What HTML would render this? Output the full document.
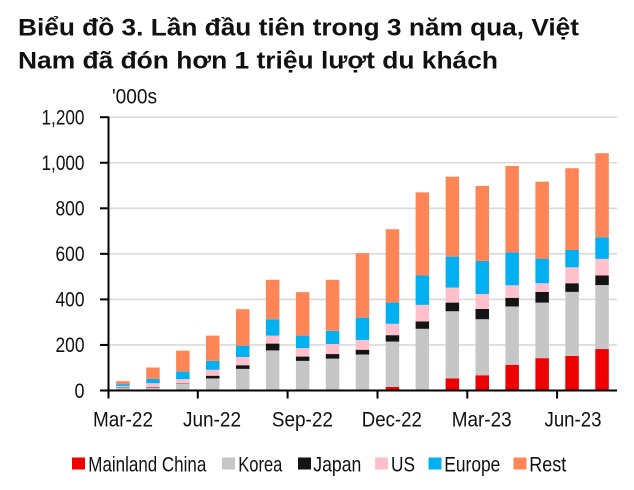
<!DOCTYPE html>
<html><head><meta charset="utf-8"><style>
html,body{margin:0;padding:0;background:#fff;}
svg{display:block;}
text{font-family:"Liberation Sans",Arial,sans-serif;}
</style></head><body>
<svg width="634" height="490" viewBox="0 0 634 490" xmlns="http://www.w3.org/2000/svg">
<rect width="634" height="490" fill="#fff"/>
<text x="18" y="35.5" font-size="24" font-weight="bold" fill="#111" textLength="561" lengthAdjust="spacingAndGlyphs">Biểu đồ 3. Lần đầu tiên trong 3 năm qua, Việt</text>
<text x="18" y="68.5" font-size="24" font-weight="bold" fill="#111" textLength="480" lengthAdjust="spacingAndGlyphs">Nam đã đón hơn 1 triệu lượt du khách</text>
<text x="112" y="103.5" font-size="21" fill="#111" textLength="45" lengthAdjust="spacingAndGlyphs">'000s</text>
<g stroke="#D9D9D9" stroke-width="1.6">
<line x1="108" y1="117.2" x2="617" y2="117.2"/>
<line x1="108" y1="162.75" x2="617" y2="162.75"/>
<line x1="108" y1="208.3" x2="617" y2="208.3"/>
<line x1="108" y1="253.85" x2="617" y2="253.85"/>
<line x1="108" y1="299.4" x2="617" y2="299.4"/>
<line x1="108" y1="344.95" x2="617" y2="344.95"/>
</g>
<g font-size="21" fill="#111" text-anchor="end">
<text x="84.5" y="124.5" textLength="43" lengthAdjust="spacingAndGlyphs">1,200</text>
<text x="84.5" y="170" textLength="43" lengthAdjust="spacingAndGlyphs">1,000</text>
<text x="84.5" y="215.5" textLength="29" lengthAdjust="spacingAndGlyphs">800</text>
<text x="84.5" y="261" textLength="29" lengthAdjust="spacingAndGlyphs">600</text>
<text x="84.5" y="306.5" textLength="29" lengthAdjust="spacingAndGlyphs">400</text>
<text x="84.5" y="352" textLength="29" lengthAdjust="spacingAndGlyphs">200</text>
<text x="84.5" y="398" textLength="10" lengthAdjust="spacingAndGlyphs">0</text>
</g>
<g transform="translate(0,390.5) scale(1,-0.22775)">
<g fill="#EE0000">
<rect x="116.2" y="0" width="13.5" height="1"/>
<rect x="146.2" y="0" width="13.5" height="1"/>
<rect x="176.1" y="0" width="13.5" height="1"/>
<rect x="206.0" y="0" width="13.5" height="1"/>
<rect x="236.0" y="0" width="13.5" height="1"/>
<rect x="265.9" y="0" width="13.5" height="1"/>
<rect x="295.9" y="0" width="13.5" height="1"/>
<rect x="325.8" y="0" width="13.5" height="1"/>
<rect x="355.7" y="0" width="13.5" height="1"/>
<rect x="385.7" y="0" width="13.5" height="16"/>
<rect x="415.6" y="0" width="13.5" height="1"/>
<rect x="445.6" y="0" width="13.5" height="53"/>
<rect x="475.5" y="0" width="13.5" height="67"/>
<rect x="505.4" y="0" width="13.5" height="113"/>
<rect x="535.4" y="0" width="13.5" height="142"/>
<rect x="565.3" y="0" width="13.5" height="152"/>
<rect x="595.3" y="0" width="13.5" height="182"/>
</g>
<g fill="#C6C6C6">
<rect x="116.2" y="1" width="13.5" height="13"/>
<rect x="146.2" y="1" width="13.5" height="12"/>
<rect x="176.1" y="1" width="13.5" height="29"/>
<rect x="206.0" y="1" width="13.5" height="52"/>
<rect x="236.0" y="1" width="13.5" height="94"/>
<rect x="265.9" y="1" width="13.5" height="175"/>
<rect x="295.9" y="1" width="13.5" height="129"/>
<rect x="325.8" y="1" width="13.5" height="139"/>
<rect x="355.7" y="1" width="13.5" height="157"/>
<rect x="385.7" y="16" width="13.5" height="199"/>
<rect x="415.6" y="1" width="13.5" height="270"/>
<rect x="445.6" y="53" width="13.5" height="295"/>
<rect x="475.5" y="67" width="13.5" height="246"/>
<rect x="505.4" y="113" width="13.5" height="256"/>
<rect x="535.4" y="142" width="13.5" height="244"/>
<rect x="565.3" y="152" width="13.5" height="281"/>
<rect x="595.3" y="182" width="13.5" height="281"/>
</g>
<g fill="#141414">
<rect x="116.2" y="14" width="13.5" height="2"/>
<rect x="146.2" y="13" width="13.5" height="2"/>
<rect x="176.1" y="30" width="13.5" height="2"/>
<rect x="206.0" y="53" width="13.5" height="12"/>
<rect x="236.0" y="95" width="13.5" height="16"/>
<rect x="265.9" y="176" width="13.5" height="30"/>
<rect x="295.9" y="130" width="13.5" height="19"/>
<rect x="325.8" y="140" width="13.5" height="20"/>
<rect x="355.7" y="158" width="13.5" height="21"/>
<rect x="385.7" y="215" width="13.5" height="28"/>
<rect x="415.6" y="271" width="13.5" height="32"/>
<rect x="445.6" y="348" width="13.5" height="38"/>
<rect x="475.5" y="313" width="13.5" height="45"/>
<rect x="505.4" y="369" width="13.5" height="38"/>
<rect x="535.4" y="386" width="13.5" height="47"/>
<rect x="565.3" y="433" width="13.5" height="38"/>
<rect x="595.3" y="463" width="13.5" height="42"/>
</g>
<g fill="#FFC0CB">
<rect x="116.2" y="16" width="13.5" height="4"/>
<rect x="146.2" y="15" width="13.5" height="17"/>
<rect x="176.1" y="32" width="13.5" height="18"/>
<rect x="206.0" y="65" width="13.5" height="26"/>
<rect x="236.0" y="111" width="13.5" height="36"/>
<rect x="265.9" y="206" width="13.5" height="35"/>
<rect x="295.9" y="149" width="13.5" height="37"/>
<rect x="325.8" y="160" width="13.5" height="44"/>
<rect x="355.7" y="179" width="13.5" height="43"/>
<rect x="385.7" y="243" width="13.5" height="50"/>
<rect x="415.6" y="303" width="13.5" height="73"/>
<rect x="445.6" y="386" width="13.5" height="66"/>
<rect x="475.5" y="358" width="13.5" height="66"/>
<rect x="505.4" y="407" width="13.5" height="55"/>
<rect x="535.4" y="433" width="13.5" height="38"/>
<rect x="565.3" y="471" width="13.5" height="70"/>
<rect x="595.3" y="505" width="13.5" height="73"/>
</g>
<g fill="#00B0F0">
<rect x="116.2" y="20" width="13.5" height="8"/>
<rect x="146.2" y="32" width="13.5" height="19"/>
<rect x="176.1" y="50" width="13.5" height="33"/>
<rect x="206.0" y="91" width="13.5" height="39"/>
<rect x="236.0" y="147" width="13.5" height="50"/>
<rect x="265.9" y="241" width="13.5" height="72"/>
<rect x="295.9" y="186" width="13.5" height="55"/>
<rect x="325.8" y="204" width="13.5" height="58"/>
<rect x="355.7" y="222" width="13.5" height="98"/>
<rect x="385.7" y="293" width="13.5" height="93"/>
<rect x="415.6" y="376" width="13.5" height="129"/>
<rect x="445.6" y="452" width="13.5" height="136"/>
<rect x="475.5" y="424" width="13.5" height="145"/>
<rect x="505.4" y="462" width="13.5" height="144"/>
<rect x="535.4" y="471" width="13.5" height="108"/>
<rect x="565.3" y="541" width="13.5" height="76"/>
<rect x="595.3" y="578" width="13.5" height="95"/>
</g>
<g fill="#FF8557">
<rect x="116.2" y="28" width="13.5" height="13"/>
<rect x="146.2" y="51" width="13.5" height="50"/>
<rect x="176.1" y="83" width="13.5" height="92"/>
<rect x="206.0" y="130" width="13.5" height="111"/>
<rect x="236.0" y="197" width="13.5" height="160"/>
<rect x="265.9" y="313" width="13.5" height="173"/>
<rect x="295.9" y="241" width="13.5" height="191"/>
<rect x="325.8" y="262" width="13.5" height="224"/>
<rect x="355.7" y="320" width="13.5" height="283"/>
<rect x="385.7" y="386" width="13.5" height="322"/>
<rect x="415.6" y="505" width="13.5" height="365"/>
<rect x="445.6" y="588" width="13.5" height="351"/>
<rect x="475.5" y="569" width="13.5" height="329"/>
<rect x="505.4" y="606" width="13.5" height="380"/>
<rect x="535.4" y="579" width="13.5" height="338"/>
<rect x="565.3" y="617" width="13.5" height="359"/>
<rect x="595.3" y="673" width="13.5" height="369"/>
</g>
</g>
<g stroke="#000" stroke-width="2" fill="none">
<line x1="108.5" y1="116.5" x2="108.5" y2="398.5"/>
<line x1="100" y1="390.5" x2="617" y2="390.5"/>
<line x1="100" y1="117.2" x2="108.5" y2="117.2"/>
<line x1="100" y1="162.75" x2="108.5" y2="162.75"/>
<line x1="100" y1="208.3" x2="108.5" y2="208.3"/>
<line x1="100" y1="253.85" x2="108.5" y2="253.85"/>
<line x1="100" y1="299.4" x2="108.5" y2="299.4"/>
<line x1="100" y1="344.95" x2="108.5" y2="344.95"/>
<line x1="197.8" y1="390.5" x2="197.8" y2="398.5"/>
<line x1="287.6" y1="390.5" x2="287.6" y2="398.5"/>
<line x1="377.5" y1="390.5" x2="377.5" y2="398.5"/>
<line x1="467.3" y1="390.5" x2="467.3" y2="398.5"/>
<line x1="557.1" y1="390.5" x2="557.1" y2="398.5"/>
</g>
<g font-size="21.5" fill="#111" text-anchor="middle">
<text x="123" y="426.5" textLength="60" lengthAdjust="spacingAndGlyphs">Mar-22</text>
<text x="212" y="426.5" textLength="58" lengthAdjust="spacingAndGlyphs">Jun-22</text>
<text x="302.4" y="426.5" textLength="61" lengthAdjust="spacingAndGlyphs">Sep-22</text>
<text x="391.8" y="426.5" textLength="60" lengthAdjust="spacingAndGlyphs">Dec-22</text>
<text x="481.7" y="426.5" textLength="60" lengthAdjust="spacingAndGlyphs">Mar-23</text>
<text x="573" y="426.5" textLength="57" lengthAdjust="spacingAndGlyphs">Jun-23</text>
</g>
<rect x="72" y="457.5" width="13" height="12" fill="#EE0000"/>
<rect x="222" y="457.5" width="13" height="12" fill="#C6C6C6"/>
<rect x="298" y="457.5" width="13" height="12" fill="#141414"/>
<rect x="375" y="457.5" width="13" height="12" fill="#FFC0CB"/>
<rect x="428.5" y="457.5" width="13" height="12" fill="#00B0F0"/>
<rect x="513.5" y="457.5" width="13" height="12" fill="#FF8557"/>
<g font-size="21.5" fill="#111">
<text x="88.3" y="471.5" textLength="118" lengthAdjust="spacingAndGlyphs">Mainland China</text>
<text x="238.3" y="471.5" textLength="44" lengthAdjust="spacingAndGlyphs">Korea</text>
<text x="313.3" y="471.5" textLength="48" lengthAdjust="spacingAndGlyphs">Japan</text>
<text x="391" y="471.5" textLength="24" lengthAdjust="spacingAndGlyphs">US</text>
<text x="444.3" y="471.5" textLength="56" lengthAdjust="spacingAndGlyphs">Europe</text>
<text x="529.3" y="471.5" textLength="37" lengthAdjust="spacingAndGlyphs">Rest</text>
</g>
</svg>
</body></html>
